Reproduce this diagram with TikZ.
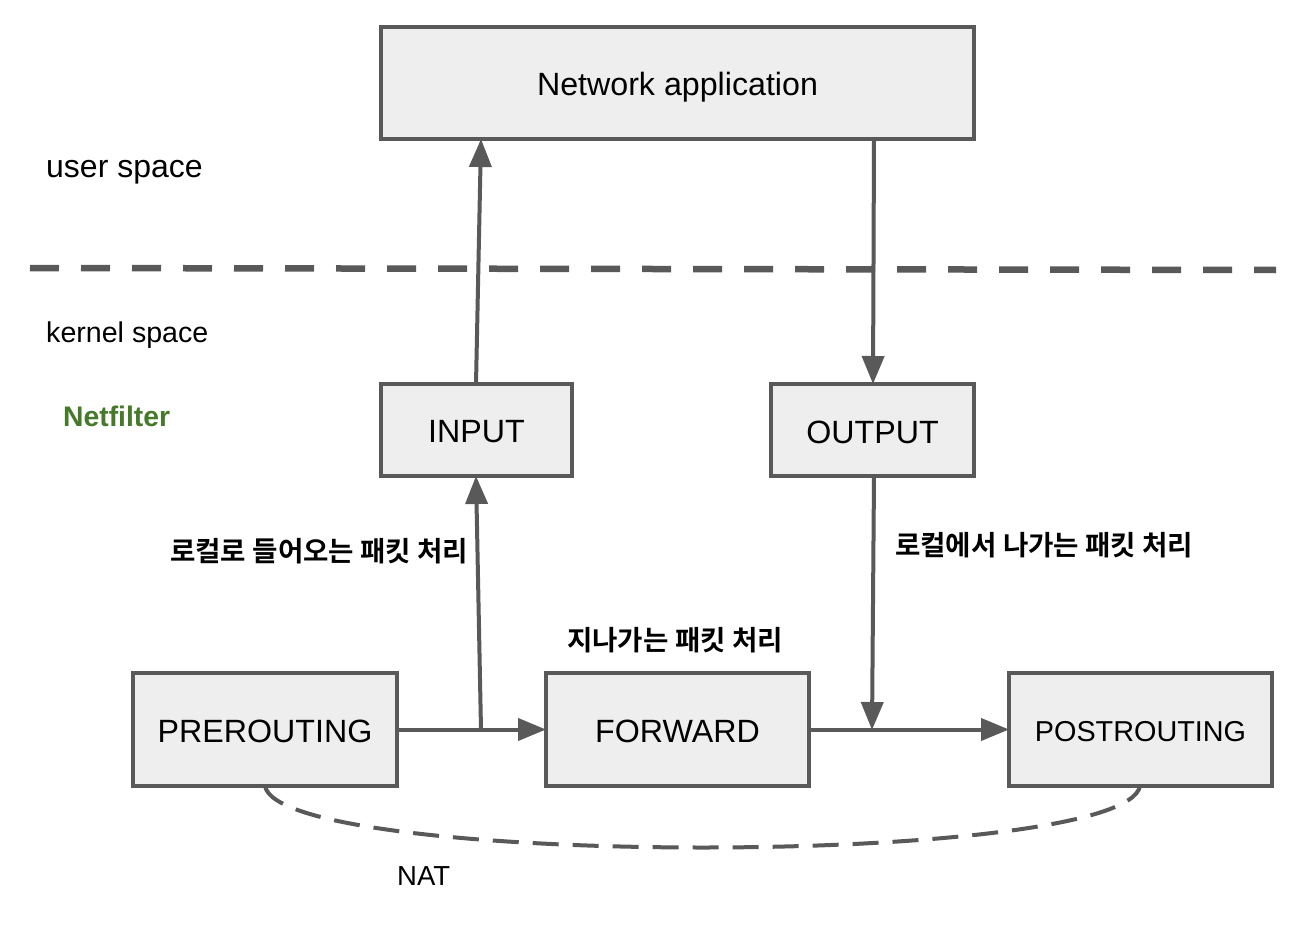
\documentclass[tikz,border=0pt]{standalone}
\usepackage{fontspec}
\setmainfont{Liberation Sans}
\newfontfamily\krfont{Noto Sans CJK KR}[BoldFont={* Bold}]
\usetikzlibrary{arrows.meta}
\definecolor{linegray}{HTML}{595959}
\definecolor{boxfill}{HTML}{EEEEEE}
\definecolor{netgreen}{HTML}{457A2B}
\tikzset{
  box/.style={draw=linegray, fill=boxfill, line width=4pt, inner sep=0pt, outer sep=0pt, anchor=north west},
  conn/.style={draw=linegray, line width=4pt, -{Triangle[length=28pt,width=22pt]}},
  lbl/.style={font=\fontsize{32.2}{38}\selectfont, inner sep=0pt},
  krlbl/.style={font=\krfont\bfseries\fontsize{27.6}{32}\selectfont, inner sep=0pt, text=black},
}
\begin{document}
\begin{tikzpicture}[x=1pt,y=-1pt]
\useasboundingbox (0,0) rectangle (1306,928);
\fill[white] (0,0) rectangle (1306,928);

% boxes
\node[box, minimum width=593pt, minimum height=112pt] (app) at (381,27) {};
\node[lbl] at ([yshift=-4pt]app.center) {Network application};
\node[box, minimum width=191pt, minimum height=92pt] (input) at (381,384) {};
\node[lbl] at ([yshift=-2pt]input.center) {INPUT};
\node[box, minimum width=203pt, minimum height=92pt] (output) at (771,384) {};
\node[lbl] at ([yshift=-2pt]output.center) {OUTPUT};
\node[box, minimum width=264pt, minimum height=113pt] (pre) at (133,673) {};
\node[lbl] at ([yshift=-2pt]pre.center) {PREROUTING};
\node[box, minimum width=263pt, minimum height=113pt] (fwd) at (546,673) {};
\node[lbl] at ([yshift=-2pt]fwd.center) {FORWARD};
\node[box, minimum width=263pt, minimum height=113pt] (post) at (1009,673) {};
\node[lbl, font=\fontsize{28.8}{34}\selectfont] at ([yshift=-2pt]post.center) {POSTROUTING};

% separator
\coordinate (sepL) at (30,268);
\coordinate (sepR) at (1276,270);
\draw[linegray, line width=6.5pt, dash pattern=on 29pt off 22pt] (sepL) -- (sepR);

% side labels
\node[lbl, anchor=west, font=\fontsize{32}{38}\selectfont] (us) at (46,172) {user space};
\node[lbl, anchor=west, font=\fontsize{28.6}{34}\selectfont] (ks) at (46,335) {kernel space};
\node[lbl, anchor=west, font=\bfseries\fontsize{28.3}{34}\selectfont, text=netgreen] (nf) at (63,416) {Netfilter};

% junction coordinates
\coordinate (j1) at (481,730);
\coordinate (j2) at (872,730);
\coordinate (inTop) at (476,384);
\coordinate (appIn) at (481,139);
\coordinate (inBot) at (476,476);
\coordinate (appOut) at (874,139);
\coordinate (outTop) at (873,384);
\coordinate (outBot) at (874,476);

% connectors
\draw[conn] (inTop) -- (appIn);
\draw[conn] (j1) -- (inBot);
\draw[conn] (pre.east) -- (fwd.west);
\draw[conn] (appOut) -- (outTop);
\draw[conn] (outBot) -- (j2);
\draw[conn] (fwd.east) -- (post.west);

% NAT curve
\coordinate (natA) at (265,786);
\coordinate (natB) at (1140,786);
\draw[linegray, line width=4pt, dash pattern=on 26pt off 14pt]
  (natA) .. controls (280,868) and (1125,868) .. (natB);
\node[lbl, font=\fontsize{27.5}{32}\selectfont, anchor=west] (nat) at (397,876) {NAT};

% Korean labels
\node[krlbl, anchor=west] (l1) at (170,551) {로컬로 들어오는 패킷 처리};
\node[krlbl, anchor=west] (l2) at (567,640) {지나가는 패킷 처리};
\node[krlbl, anchor=west] (l3) at (895,545) {로컬에서 나가는 패킷 처리};
\end{tikzpicture}
\end{document}
